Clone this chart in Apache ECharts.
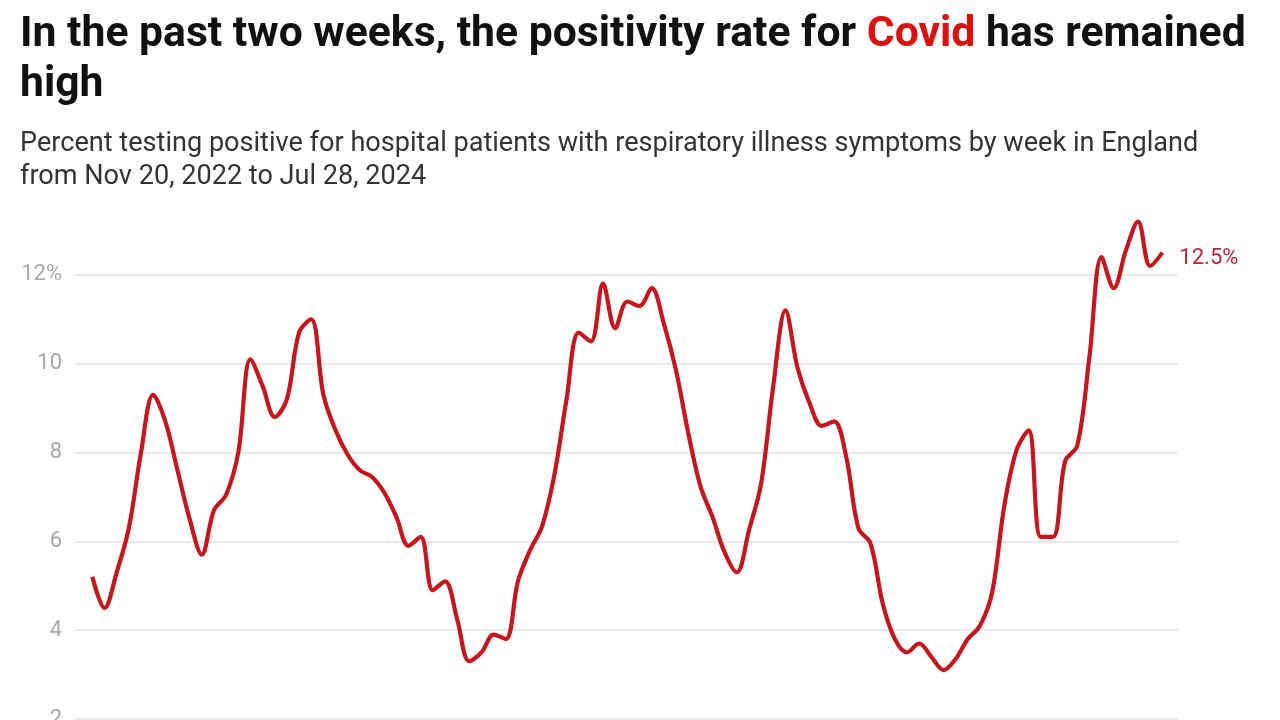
<!DOCTYPE html>
<html>
<head>
<meta charset="utf-8">
<script src="https://cdn.jsdelivr.net/npm/echarts@6/dist/echarts.min.js"></script>
<style>
html,body{margin:0;padding:0;background:#fff;}
#chart{width:1280px;height:720px;}
</style>
</head>
<body>
<div id="chart"></div>
<script>
// Weekly positivity (%) from Nov 20, 2022 to Jul 28, 2024
const startDate = '2022-11-20';
const positivity = [
  5.2, 4.5, 5.3, 6.3, 8.0, 9.3, 8.7, 7.6, 6.5, 5.7,
  6.7, 7.05, 8.0, 10.1, 9.5, 8.8, 9.2, 10.7, 11.0, 9.3,
  8.5, 7.95, 7.6, 7.45, 7.1, 6.55, 5.9, 6.1, 4.9, 5.1,
  4.25, 3.3, 3.5, 3.9, 3.8, 5.1, 5.8, 6.35, 7.5, 9.2,
  10.7, 10.5, 11.8, 10.8, 11.4, 11.3, 11.7, 10.9, 9.85, 8.45,
  7.25, 6.55, 5.75, 5.3, 6.25, 7.3, 9.5, 11.2, 9.9, 9.1,
  8.6, 8.7, 7.9, 6.3, 5.95, 4.6, 3.8, 3.5, 3.7, 3.4,
  3.1, 3.35, 3.8, 4.1, 4.85, 6.8, 8.05, 8.5, 6.1, 6.1,
  7.8, 8.15, 10.15, 12.4, 11.7, 12.55, 13.2, 12.2, 12.5
];
const yTicks = [2, 4, 6, 8, 10, 12, 14];
const titleText = 'In the past two weeks, the positivity rate for {r|Covid} has remained\nhigh';
const subtitleText = 'Percent testing positive for hospital patients with respiratory illness symptoms by week in England\nfrom Nov 20, 2022 to Jul 28, 2024';

const weeks = positivity.map((_, i) => {
  const d = new Date(startDate + 'T00:00:00Z');
  d.setUTCDate(d.getUTCDate() + 7 * i);
  return d.toISOString().slice(0, 10);
});
const seriesData = weeks.map((w, i) => [w, positivity[i]]);

const chart = echarts.init(document.getElementById('chart'), null, {renderer: 'canvas'});
chart.setOption({
  animation: false,
  backgroundColor: '#ffffff',
  title: [
    {
      text: titleText,
      left: 20,
      top: 10,
      padding: 0,
      textStyle: {
        fontFamily: 'Roboto',
        fontWeight: 'bold',
        fontSize: 42.7,
        lineHeight: 50,
        color: '#111111',
        rich: {
          r: {color: '#dd1010', fontFamily: 'Roboto', fontWeight: 'bold', fontSize: 42.7, lineHeight: 50}
        }
      }
    },
    {
      text: subtitleText,
      left: 20,
      top: 128,
      padding: 0,
      textStyle: {
        fontFamily: 'Roboto',
        fontWeight: 'normal',
        fontSize: 27.1,
        lineHeight: 33,
        color: '#333333'
      }
    }
  ],
  grid: {left: 75, right: 102, top: 186, bottom: 1, containLabel: false, outerBoundsMode: 'none'},
  xAxis: {
    type: 'time',
    min: '2022-11-10',
    max: '2024-08-06',
    show: false,
    splitLine: {show: false}
  },
  yAxis: {
    type: 'value',
    min: yTicks[0],
    max: yTicks[yTicks.length - 1],
    interval: 2,
    axisLine: {show: false},
    axisTick: {show: false},
    axisLabel: {
      fontFamily: 'Roboto',
      fontSize: 22,
      color: '#a8a8a8',
      margin: 13,
      formatter: v => v === 14 ? '' : (v === 12 ? v + '%' : String(v))
    },
    splitLine: {
      lineStyle: {
        color: yTicks.map(v => v === 14 ? 'rgba(0,0,0,0)' : '#e3e3e3'),
        width: 1.5
      }
    }
  },
  series: [{
    type: 'line',
    data: seriesData,
    smooth: 0.35,
    showSymbol: false,
    lineStyle: {color: '#c4161c', width: 4.2},
    itemStyle: {color: '#c4161c'},
    endLabel: {
      show: true,
      distance: 17,
      offset: [0, 6],
      fontFamily: 'Roboto',
      fontSize: 22,
      color: '#b0283a',
      formatter: p => p.value[1].toFixed(1) + '%'
    }
  }]
});
</script>
</body>
</html>
